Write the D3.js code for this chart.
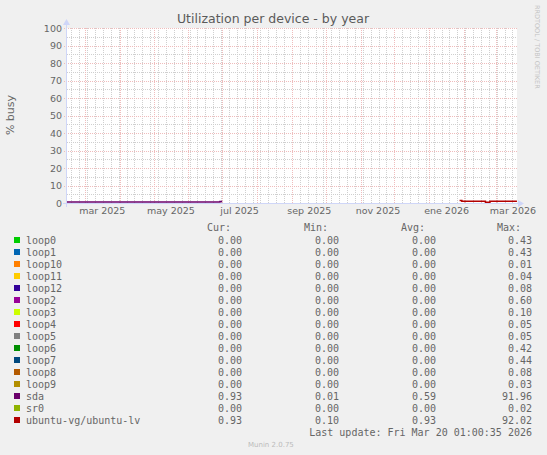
<!DOCTYPE html>
<html>
<head>
<meta charset="utf-8">
<script src="https://cdn.jsdelivr.net/npm/d3@7"></script>
<style>
  body { margin: 0; background: #F0F0F0; }
  svg { display: block; }
</style>
</head>
<body>
<svg id="chart" width="547" height="455"></svg>
<script>
// data
const seriesNames = ['loop0', 'loop1', 'loop10', 'loop11', 'loop12', 'loop2', 'loop3', 'loop4',
  'loop5', 'loop6', 'loop7', 'loop8', 'loop9', 'sda', 'sr0', 'ubuntu-vg/ubuntu-lv'];
const seriesColors = ['#00CC00', '#0066B3', '#FF8000', '#FFCC00', '#330099', '#990099', '#CCFF00', '#FF0000',
  '#808080', '#008F00', '#00487D', '#B35A00', '#B38F00', '#6B006B', '#8FB300', '#B30000'];
const curValues = ['0.00', '0.00', '0.00', '0.00', '0.00', '0.00', '0.00', '0.00',
  '0.00', '0.00', '0.00', '0.00', '0.00', '0.93', '0.00', '0.93'];
const minValues = ['0.00', '0.00', '0.00', '0.00', '0.00', '0.00', '0.00', '0.00',
  '0.00', '0.00', '0.00', '0.00', '0.00', '0.01', '0.00', '0.10'];
const avgValues = ['0.00', '0.00', '0.00', '0.00', '0.00', '0.00', '0.00', '0.00',
  '0.00', '0.00', '0.00', '0.00', '0.00', '0.59', '0.00', '0.93'];
const maxValues = ['0.43', '0.43', '0.01', '0.04', '0.08', '0.60', '0.10', '0.05',
  '0.05', '0.42', '0.44', '0.08', '0.03', '91.96', '0.02', '92.02'];

const sdaDates = ['2025-02-13', '2025-03-01', '2025-03-15', '2025-04-01', '2025-04-15', '2025-05-01',
  '2025-05-15', '2025-06-01', '2025-06-15', '2025-06-29', '2025-07-01'];
const sdaValues = [0.6, 0.6, 0.6, 0.6, 0.6, 0.6, 0.6, 0.6, 0.6, 0.9, 0.9];
const lvDates = ['2026-01-28', '2026-01-30', '2026-02-20', '2026-02-24', '2026-03-20'];
const lvValues = [1.4, 0.95, 0.4, 0.95, 0.95];

const yTicks = [0, 10, 20, 30, 40, 50, 60, 70, 80, 90, 100];
const shortMonths = ['ene', 'feb', 'mar', 'abr', 'may', 'jun', 'jul', 'ago', 'sep', 'oct', 'nov', 'dic'];
const labelMonths = ['2025-03', '2025-05', '2025-07', '2025-09', '2025-11', '2026-01', '2026-03'];

const svg = d3.select('#chart');
const endTime = new Date(2026, 2, 20, 1, 0);
const startTime = d3.timeDay.offset(endTime, -400);

const x = d3.scaleTime().domain([startTime, endTime]).range([67, 517]);
const y = d3.scaleLinear().domain([0, 100]).range([203, 28]);
const parse = d3.timeParse('%Y-%m-%d');
const parseMonth = d3.timeParse('%Y-%m');

// canvas
svg.append('rect').attr('x', 67).attr('y', 28).attr('width', 450).attr('height', 175).attr('fill', '#fff');

const grid = svg.append('g').attr('shape-rendering', 'crispEdges');
const minorColor = '#cfcfcf', majorColor = '#efbcbc';
// minor grid
grid.selectAll('line.wk').data(d3.timeMonday.range(startTime, endTime)).enter().append('line')
  .attr('x1', d => Math.round(x(d)) + 0.5).attr('x2', d => Math.round(x(d)) + 0.5)
  .attr('y1', 28).attr('y2', 203)
  .attr('stroke', minorColor).attr('stroke-dasharray', '1,1');
grid.selectAll('line.h5').data(d3.range(5, 100, 10)).enter().append('line')
  .attr('x1', 67).attr('x2', 517)
  .attr('y1', d => Math.round(y(d)) + 0.5).attr('y2', d => Math.round(y(d)) + 0.5)
  .attr('stroke', minorColor).attr('stroke-dasharray', '1,1');
// major grid
grid.selectAll('line.mo').data(d3.timeMonth.range(startTime, endTime)).enter().append('line')
  .attr('x1', d => Math.round(x(d)) + 0.5).attr('x2', d => Math.round(x(d)) + 0.5)
  .attr('y1', 28).attr('y2', 203)
  .attr('stroke', majorColor).attr('stroke-dasharray', '1,1');
grid.selectAll('line.h10').data(yTicks.slice(1)).enter().append('line')
  .attr('x1', 64).attr('x2', 517)
  .attr('y1', d => Math.round(y(d)) + 0.5).attr('y2', d => Math.round(y(d)) + 0.5)
  .attr('stroke', majorColor).attr('stroke-dasharray', '1,1');

// y labels
const yAxis = svg.append('g').attr('transform', 'translate(63,0)')
  .call(d3.axisLeft(y).tickValues(yTicks).tickSize(0).tickPadding(1));
yAxis.select('.domain').remove();
yAxis.selectAll('text').attr('font-family', 'DejaVu Sans').attr('font-size', 9.5).attr('fill', '#666');

// x labels, centred in their month
const xAxis = svg.append('g').attr('transform', 'translate(0,207)')
  .call(d3.axisBottom(x)
    .tickValues(labelMonths.map(m => d3.timeDay.offset(parseMonth(m), 15)))
    .tickFormat(d => shortMonths[d.getMonth()] + ' ' + d.getFullYear())
    .tickSize(0).tickPadding(0));
xAxis.select('.domain').remove();
xAxis.selectAll('text').attr('font-family', 'DejaVu Sans').attr('font-size', 9.5).attr('fill', '#666');

// series
const line = d3.line().x(d => x(d[0])).y(d => y(d[1])).curve(d3.curveStepAfter);
svg.append('path').datum(sdaDates.map((d, i) => [parse(d), sdaValues[i]]))
  .attr('d', line).attr('fill', 'none').attr('stroke', seriesColors[13]).attr('stroke-width', 1.5);
svg.append('path').datum(lvDates.map((d, i) => [parse(d), lvValues[i]]))
  .attr('d', line).attr('fill', 'none').attr('stroke', seriesColors[15]).attr('stroke-width', 1.5);

// axes with arrows
const axisColor = '#CFD6F8';
svg.append('line').attr('x1', 63).attr('x2', 519).attr('y1', 203.5).attr('y2', 203.5)
  .attr('stroke', axisColor).attr('stroke-width', 1);
svg.append('line').attr('x1', 66.5).attr('x2', 66.5).attr('y1', 207).attr('y2', 24)
  .attr('stroke', axisColor).attr('stroke-width', 1);
svg.append('path').attr('d', 'M518,200 L524,203.5 L518,207 Z').attr('fill', axisColor);
svg.append('path').attr('d', 'M63,25 L66.5,19 L70,25 Z').attr('fill', axisColor);

// titles
svg.append('text').attr('x', 273).attr('y', 23).attr('text-anchor', 'middle')
  .attr('font-family', 'DejaVu Sans').attr('font-size', 12.5).attr('fill', '#5a5a5a')
  .text('Utilization per device - by year');
svg.append('text').attr('transform', 'translate(14,115) rotate(-90)').attr('text-anchor', 'middle')
  .attr('font-family', 'DejaVu Sans').attr('font-size', 11).attr('fill', '#666')
  .text('% busy');
svg.append('text').attr('transform', 'translate(535,5) rotate(90)').attr('text-anchor', 'start')
  .attr('font-family', 'DejaVu Sans').attr('font-size', 6.5).attr('fill', '#c4c4c4')
  .text('RRDTOOL / TOBI OETIKER');

// legend
const mono = 'DejaVu Sans Mono';
const legend = svg.append('g').attr('font-family', mono).attr('font-size', 10).attr('fill', '#666');
const cols = [242, 339, 436, 532];
const headers = ['Cur:', 'Min:', 'Avg:', 'Max:'];
headers.forEach((h, i) => {
  legend.append('text').attr('x', cols[i] - 11).attr('y', 230.5).attr('text-anchor', 'end').text(h);
});
const rows = legend.selectAll('g.row').data(seriesNames).enter().append('g')
  .attr('transform', (d, i) => `translate(0,${240 + i * 12})`);
rows.append('rect').attr('x', 14).attr('y', -3).attr('width', 6).attr('height', 6)
  .attr('fill', (d, i) => seriesColors[i]);
rows.append('text').attr('x', 26).attr('y', 3.5).text(d => d);
[curValues, minValues, avgValues, maxValues].forEach((vals, c) => {
  rows.append('text').attr('x', cols[c]).attr('y', 3.5).attr('text-anchor', 'end').text((d, i) => vals[i]);
});
legend.append('text').attr('x', 532).attr('y', 435.5).attr('text-anchor', 'end')
  .text('Last update: Fri Mar 20 01:00:35 2026');
svg.append('text').attr('x', 248).attr('y', 446.5)
  .attr('font-family', 'DejaVu Sans').attr('font-size', 7).attr('fill', '#bbb')
  .text('Munin 2.0.75');
</script>
</body>
</html>
